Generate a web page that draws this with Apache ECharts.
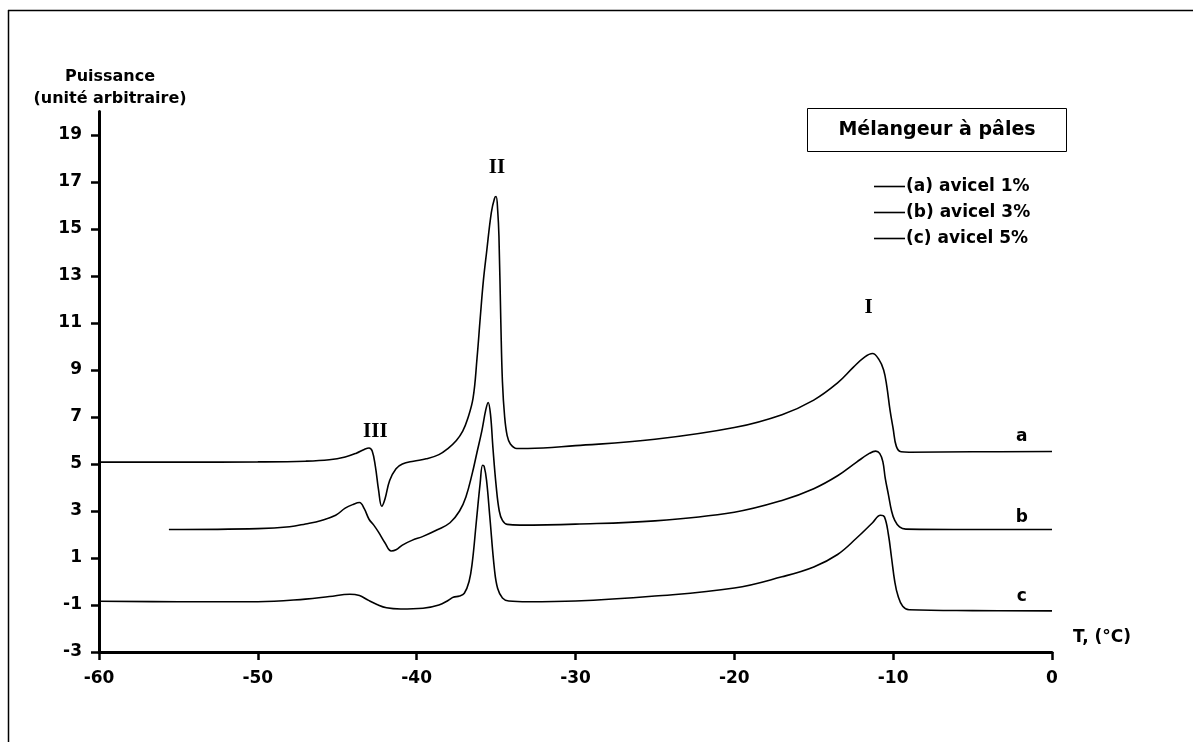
<!DOCTYPE html>
<html>
<head>
<meta charset="utf-8">
<script src="https://cdn.jsdelivr.net/npm/echarts@6/dist/echarts.min.js"></script>
<style>
html,body{margin:0;padding:0;background:#fff;}
#chart{width:1193px;height:742px;}
</style>
</head>
<body>
<div id="chart"></div>
<script>
// ---- Data (T in °C, power in arbitrary units) ----
const seriesNames = ['(a) avicel 1%', '(b) avicel 3%', '(c) avicel 5%'];
const curveA = [
  [-60,5.08],[-55,5.08],[-50,5.09],[-47,5.12],[-45.5,5.18],[-44.5,5.3],[-43.8,5.46],
  [-43.3,5.62],[-43.0,5.68],[-42.8,5.55],[-42.6,4.9],[-42.4,3.9],[-42.2,3.2],[-42.0,3.5],
  [-41.7,4.3],[-41.3,4.8],[-40.9,5.0],[-40.2,5.12],[-39.4,5.22],[-38.6,5.4],
  [-38.0,5.68],[-37.5,6.0],[-37.1,6.4],[-36.8,6.9],[-36.45,7.8],[-36.2,9.5],[-36.0,11.2],
  [-35.8,12.8],[-35.6,14.0],[-35.3,15.7],[-35.1,16.3],[-35.0,16.38],[-34.9,15.8],[-34.82,14.7],
  [-34.7,11.0],[-34.6,8.5],[-34.46,7.0],[-34.3,6.2],[-34.1,5.85],[-33.7,5.66],[-33.0,5.66],
  [-30,5.78],[-25,6.05],[-20,6.55],[-17,7.1],[-15,7.72],[-13.5,8.45],
  [-12.5,9.12],[-11.8,9.55],[-11.3,9.7],[-10.9,9.45],[-10.6,9.0],
  [-10.4,8.3],[-10.2,7.3],[-10.0,6.5],[-9.8,5.75],[-9.5,5.52],[-9.0,5.5],[-5,5.52],[0,5.53]
];
const curveB = [
  [-55.6,2.21],[-50,2.25],[-48,2.33],[-47,2.45],[-46,2.6],[-45.1,2.82],[-44.5,3.12],
  [-44.0,3.28],[-43.6,3.36],[-43.3,3.1],[-43.0,2.65],[-42.7,2.4],[-42.4,2.1],[-42.0,1.65],
  [-41.6,1.3],[-41.3,1.35],[-40.9,1.55],[-40.3,1.75],[-39.6,1.92],[-38.7,2.2],[-37.9,2.5],
  [-37.3,3.0],[-36.9,3.6],[-36.5,4.6],[-36.2,5.5],[-35.9,6.4],[-35.65,7.3],[-35.5,7.62],
  [-35.35,7.1],[-35.2,5.7],[-35.0,4.1],[-34.8,3.0],[-34.6,2.6],[-34.3,2.43],[-33.5,2.4],
  [-30,2.44],[-25,2.58],[-20,2.95],[-17,3.45],[-15,3.95],[-13.5,4.5],
  [-12.3,5.08],[-11.5,5.45],[-11.1,5.55],[-10.85,5.45],[-10.65,5.1],
  [-10.5,4.4],[-10.3,3.7],[-10.1,3.0],[-9.9,2.6],[-9.6,2.32],[-9.2,2.23],[-5,2.21],[0,2.21]
];
const curveC = [
  [-60,-0.84],[-55,-0.86],[-50,-0.86],[-47,-0.75],[-45.5,-0.64],[-44.2,-0.54],
  [-43.6,-0.6],[-43.1,-0.78],[-42.5,-0.98],[-41.9,-1.12],[-41,-1.17],[-39.6,-1.14],[-38.6,-1.0],
  [-38.0,-0.8],[-37.7,-0.67],[-37.3,-0.62],[-37.0,-0.5],[-36.7,0.0],[-36.5,0.8],[-36.25,2.5],
  [-36.0,4.2],[-35.85,4.95],[-35.75,4.9],[-35.6,4.3],[-35.4,2.8],[-35.1,0.5],[-34.9,-0.3],
  [-34.6,-0.7],[-34.2,-0.83],[-33,-0.86],[-30,-0.83],[-25,-0.62],[-20,-0.28],[-17,0.2],
  [-15,0.62],[-13.5,1.15],[-12.3,1.85],[-11.3,2.5],[-10.8,2.82],[-10.55,2.75],[-10.3,2.0],
  [-10.1,1.0],[-9.9,0.0],[-9.7,-0.6],[-9.4,-1.05],[-9.0,-1.2],[-5,-1.24],[0,-1.25]
];
const yTickValues = [-3,-1,1,3,5,7,9,11,13,15,17,19];
const xTickValues = [-60,-50,-40,-30,-20,-10,0];
const peakLabels = [
  {text:'III', coord:[-42.6,6.36]},
  {text:'II',  coord:[-34.95,17.6]},
  {text:'I',   coord:[-11.55,11.65]}
];
const curveLetters = ['a','b','c'];
const letterCoords = [[-1.9,6.15],[-1.9,2.7],[-1.9,-0.66]];

const chart = echarts.init(document.getElementById('chart'));
const sans = 'DejaVu Sans';
const serif = 'Liberation Serif';

function peakMarks(idx){
  const marks = [];
  if (idx === 0) {
    peakLabels.forEach(p => marks.push({
      coord: p.coord, symbolSize: 0,
      label: {show:true, formatter:p.text, position:'inside', fontFamily:serif, fontWeight:'bold', fontSize:21, color:'#000'}
    }));
  }
  marks.push({
    coord: letterCoords[idx], symbolSize: 0,
    label: {show:true, formatter:curveLetters[idx], position:'inside', fontFamily:sans, fontWeight:'bold', fontSize:17, color:'#000'}
  });
  return marks;
}

const curves = [curveA, curveB, curveC];
const series = curves.map((d, i) => ({
  name: seriesNames[i],
  type: 'line',
  data: d,
  showSymbol: false,
  symbol: 'none',
  smooth: 0.4,
  lineStyle: {color:'#000', width:1.6},
  itemStyle: {color:'#000'},
  silent: true,
  animation: false,
  markPoint: {symbol:'circle', symbolSize:0, silent:true, animation:false, data: peakMarks(i)}
}));

chart.setOption({
  animation: false,
  backgroundColor: '#fff',
  grid: {left: 99, right: 141, top: 111.5, bottom: 90, containLabel: false},
  xAxis: {
    type: 'value', min: -60, max: 0, interval: 10,
    name: 'T, (°C)', nameLocation: 'end', nameGap: 21,
    nameTextStyle: {fontFamily: sans, fontWeight: 'bold', fontSize: 17, color: '#000', align: 'left', verticalAlign: 'bottom', padding: [0,0,6,0]},
    axisLine: {show: true, onZero: false, lineStyle: {color: '#000', width: 3}},
    axisTick: {show: true, inside: false, length: 8, lineStyle: {color: '#000', width: 2.5}, customValues: xTickValues},
    axisLabel: {fontFamily: sans, fontWeight: 'bold', fontSize: 17, color: '#000', margin: 18, customValues: xTickValues},
    splitLine: {show: false}
  },
  yAxis: {
    type: 'value', min: -3, max: 20, interval: 2,
    name: 'Puissance\n(unité arbitraire)', nameLocation: 'end', nameGap: 2,
    nameTextStyle: {fontFamily: sans, fontWeight: 'bold', fontSize: 16, lineHeight: 22, color: '#000', align: 'center', padding: [0,0,0,22]},
    axisLine: {show: true, onZero: false, lineStyle: {color: '#000', width: 3}},
    axisTick: {show: true, inside: false, length: 8, lineStyle: {color: '#000', width: 2.5}, customValues: yTickValues},
    axisLabel: {fontFamily: sans, fontWeight: 'bold', fontSize: 17, color: '#000', margin: 17, customValues: yTickValues},
    splitLine: {show: false}
  },
  legend: {
    data: seriesNames,
    orient: 'vertical',
    left: 869, top: 173,
    itemWidth: 31, itemHeight: 14, itemGap: 9,
    icon: 'path://M0,0 L31,0 L31,1.6 L0,1.6 Z',
    selectedMode: false,
    textStyle: {fontFamily: sans, fontWeight: 'bold', fontSize: 17, color: '#000', padding: [0,0,0,-4]}
  },
  graphic: [
    {type:'line', silent:true, shape:{x1:8, y1:10.5, x2:1193, y2:10.5}, style:{stroke:'#000', lineWidth:1.5}},
    {type:'line', silent:true, shape:{x1:8.5, y1:10, x2:8.5, y2:742}, style:{stroke:'#000', lineWidth:1.5}},
    {type:'rect', silent:true, shape:{x:807.5, y:108.5, width:259, height:43}, style:{fill:'#fff', stroke:'#000', lineWidth:1}},
    {type:'text', silent:true, x:937, y:130, style:{text:'Mélangeur à pâles', fontFamily:sans, fontWeight:'bold', fontSize:19, fill:'#000', textAlign:'center', textVerticalAlign:'middle'}}
  ],
  series: series
});
</script>
</body>
</html>
